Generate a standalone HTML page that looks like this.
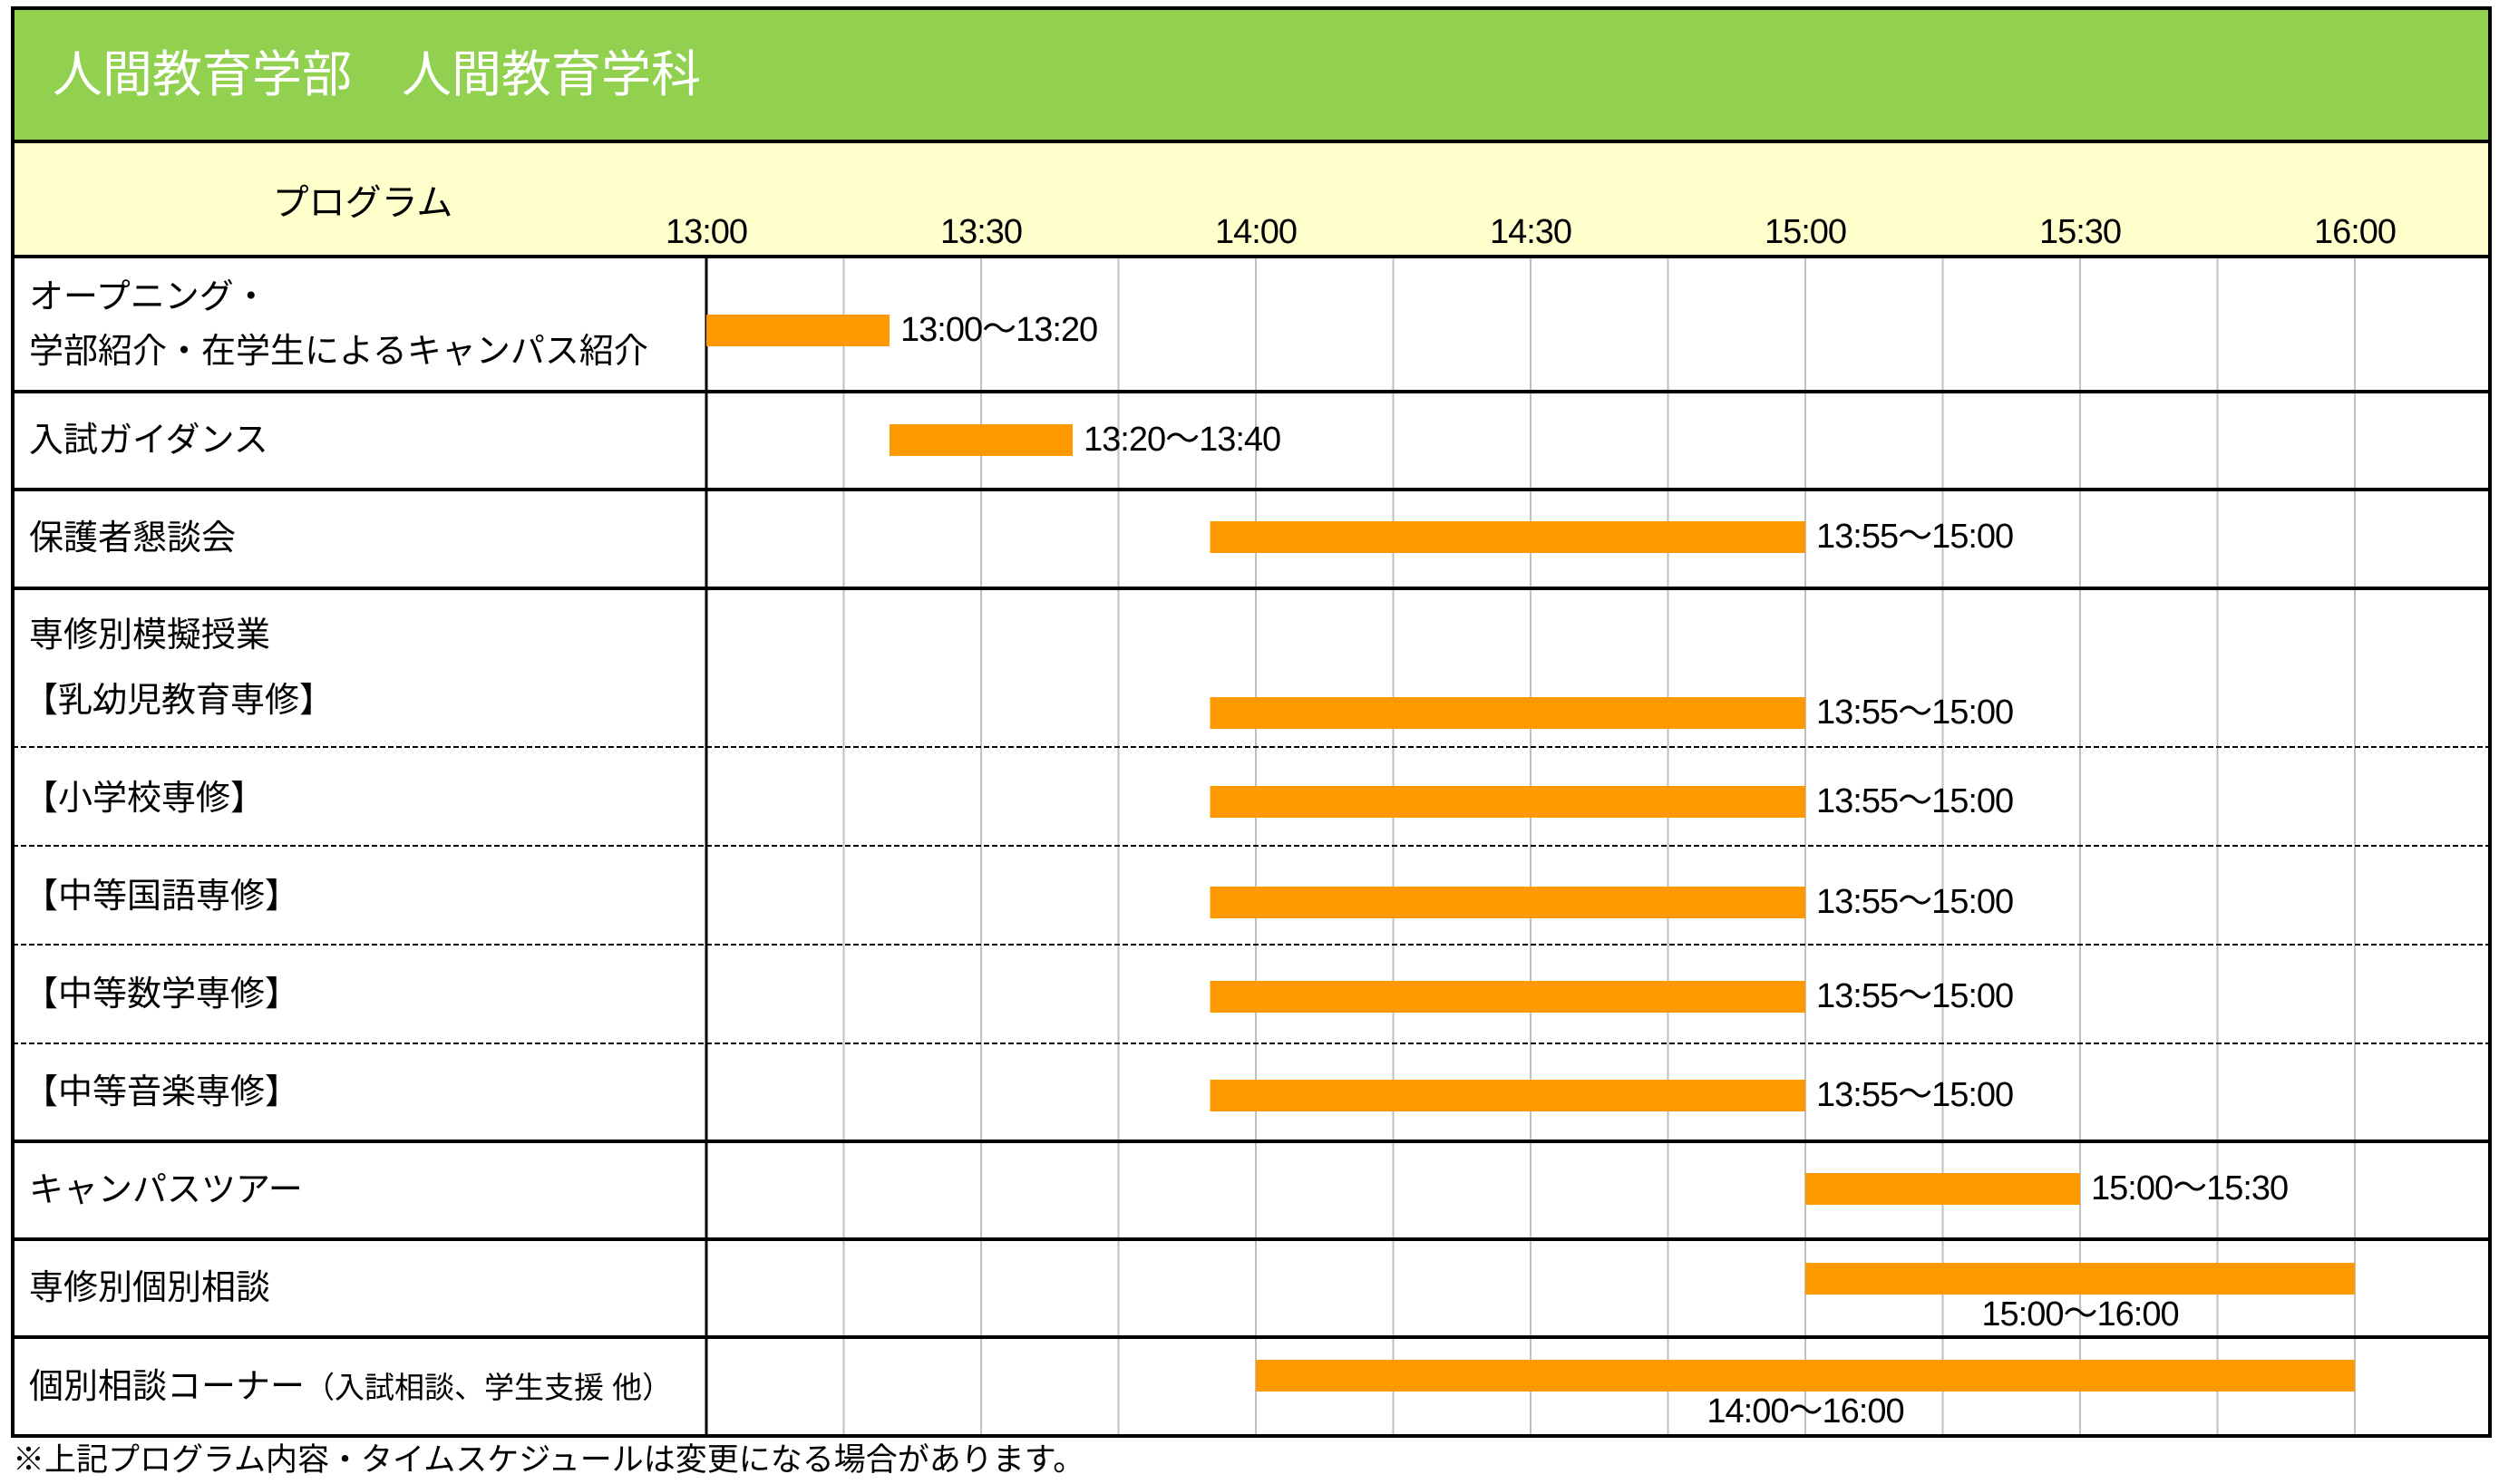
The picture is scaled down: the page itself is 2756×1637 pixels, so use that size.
<!DOCTYPE html>
<html><head><meta charset="utf-8">
<style>
html,body{margin:0;padding:0;background:#fff;width:2756px;height:1637px;overflow:hidden}
svg{display:block}
text{font-family:"Liberation Sans","Noto Sans CJK JP",sans-serif}
</style></head><body>
<svg id="chart" width="2756" height="1637" viewBox="0 0 2756 1637" xmlns="http://www.w3.org/2000/svg">
<rect x="14" y="9" width="2732" height="147" fill="#92d050"/>
<text x="58" y="101" font-size="55" fill="#fff">人間教育学部　人間教育学科</text>
<rect x="14" y="156" width="2732" height="127" fill="#ffffcc"/>
<text x="400" y="237" font-size="40" text-anchor="middle" fill="#000">プログラム</text>
<g id="grid"></g>
<g id="rows"></g>
<g id="bars"></g>
<text x="14" y="1622" font-size="35" fill="#000">※上記プログラム内容・タイムスケジュールは変更になる場合があります。</text>
</svg>
<script>
const tickLabels = ["13:00","13:30","14:00","14:30","15:00","15:30","16:00"];
const tickMinutes = [0,30,60,90,120,150,180];
const programs = ["オープニング・","入試ガイダンス","保護者懇談会","専修別模擬授業","【小学校専修】","【中等国語専修】","【中等数学専修】","【中等音楽専修】","キャンパスツアー","専修別個別相談","個別相談コーナー（入試相談、学生支援 他）"];
const startMin = [0,20,55,55,55,55,55,55,120,120,60];
const endMin = [20,40,120,120,120,120,120,120,150,180,180];
const barLabels = ["13:00〜13:20","13:20〜13:40","13:55〜15:00","13:55〜15:00","13:55〜15:00","13:55〜15:00","13:55〜15:00","13:55〜15:00","15:00〜15:30","15:00〜16:00","14:00〜16:00"];

const NS="http://www.w3.org/2000/svg";
const X0=779, PX_PER_MIN=303/30;
function xScale(m){return X0+m*PX_PER_MIN;}
const rowTops=[283,432,540,649,824,933,1042,1151,1259,1367,1475,1584];
const barCY=[364,485,592,786,884,995,1099,1208,1311,1410,1517];
const below=[false,false,false,false,false,false,false,false,false,true,true];
function mk(tag,attrs,parent){const e=document.createElementNS(NS,tag);for(const k in attrs)e.setAttribute(k,attrs[k]);parent.appendChild(e);return e;}

const grid=document.getElementById('grid');
for(let m=15;m<=180;m+=15){
  const l=mk('line',{x1:xScale(m),x2:xScale(m),y1:283,y2:1584,stroke:'#bfbfbf','stroke-width':2},grid);
  
  
}
tickLabels.forEach((t,i)=>{
  const tx=mk('text',{x:xScale(tickMinutes[i]),y:268,'font-size':38,'text-anchor':'middle','letter-spacing':'-1',fill:'#000'},grid);
  tx.textContent=t;
  
  
});

const rows=document.getElementById('rows');
for(let i=1;i<rowTops.length-1;i++){
  const d = (i>=4 && i<=7);
  const l=mk('line',{x1:14,x2:2746,y1:rowTops[i],y2:rowTops[i],stroke:'#000','stroke-width':d?2:4},rows);
  if(d)l.setAttribute('stroke-dasharray','6,3');
  
  
}
let hl=mk('line',{x1:14,x2:2746,y1:156,y2:156,stroke:'#000','stroke-width':4},rows);

hl=mk('line',{x1:14,x2:2746,y1:283,y2:283,stroke:'#000','stroke-width':4},rows);

let vl=mk('line',{x1:X0,x2:X0,y1:283,y2:1584,stroke:'#000','stroke-width':3},rows);

let ob=mk('rect',{x:14,y:9,width:2732,height:1575,fill:'none',stroke:'#000','stroke-width':4},rows);


const labelY=[[340,"オープニング・",32],[400,"学部紹介・在学生によるキャンパス紹介",32],[498,"入試ガイダンス",32],[606,"保護者懇談会",32],[713,"専修別模擬授業",32],[785,"【乳幼児教育専修】",26],[893,"【小学校専修】",26],[1001,"【中等国語専修】",26],[1109,"【中等数学専修】",26],[1217,"【中等音楽専修】",26],[1325,"キャンパスツアー",32],[1433,"専修別個別相談",32],[1542,"個別相談コーナー（入試相談、学生支援 他）",32]];
labelY.forEach(r=>{
  const t=mk('text',{x:r[2],y:r[0],'font-size':38,fill:'#000'},rows);
  if(r[1].indexOf('（')>0){t.innerHTML='個別相談コーナー<tspan font-size="33">（入試相談、学生支援 他）</tspan>';}
  else t.textContent=r[1];
  
  
});

const bars=document.getElementById('bars');
programs.forEach((p,i)=>{
  const x1=xScale(startMin[i]), x2=xScale(endMin[i]);
  const b=mk('rect',{x:x1,y:barCY[i]-17,width:x2-x1,height:35,fill:'#ff9900'},bars);
  
  
  let t;
  if(below[i]){
    t=mk('text',{x:(x1+x2)/2,y:barCY[i]+52,'font-size':38,'text-anchor':'middle','letter-spacing':'-1',fill:'#000'},bars);
  } else {
    t=mk('text',{x:x2+12,y:barCY[i]+12,'font-size':38,'letter-spacing':'-1',fill:'#000'},bars);
  }
  t.textContent=barLabels[i];
  
  
});
</script>
</body></html>
